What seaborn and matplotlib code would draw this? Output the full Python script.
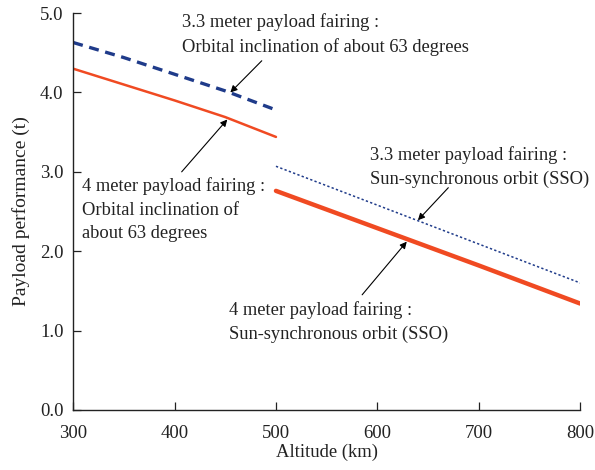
import matplotlib
matplotlib.use("Agg")
import matplotlib.pyplot as plt
import seaborn as sns
import pandas as pd

# Altitude (km) and payload (t) for each case
alt_63 = [300, 350, 400, 450, 500]
fair33_63 = [4.63, 4.44, 4.23, 4.02, 3.78]
fair4_63 = [4.30, 4.10, 3.90, 3.69, 3.44]
alt_sso = [500, 600, 700, 800]
fair33_sso = [3.07, 2.58, 2.09, 1.60]
fair4_sso = [2.76, 2.29, 1.82, 1.34]

x_ticks = [300, 400, 500, 600, 700, 800]
y_ticks = [0.0, 1.0, 2.0, 3.0, 4.0, 5.0]

RED, NAVY = "#f04a22", "#1f3b8a"

sns.set_theme(style="ticks")
plt.rcParams["font.family"] = ["Liberation Serif", "DejaVu Serif"]

fig = plt.figure(figsize=(5.95, 4.70), dpi=100)
ax = fig.add_axes([0.123, 0.128, 0.852, 0.844])

d63 = pd.DataFrame({"alt": alt_63, "a": fair33_63, "b": fair4_63})
dsso = pd.DataFrame({"alt": alt_sso, "a": fair33_sso, "b": fair4_sso})
sns.lineplot(data=d63, x="alt", y="a", ax=ax, color=NAVY, lw=2.4, ls=(0, (3, 2)))
sns.lineplot(data=d63, x="alt", y="b", ax=ax, color=RED, lw=1.8)
sns.lineplot(data=dsso, x="alt", y="a", ax=ax, color=NAVY, lw=1.1, ls=(0, (1.5, 1.5)))
sns.lineplot(data=dsso, x="alt", y="b", ax=ax, color=RED, lw=3.2)

ax.set_xlim(300, 800)
ax.set_ylim(0, 5.0)
ax.set_xticks(x_ticks)
ax.set_yticks(y_ticks)
ax.set_yticklabels([f"{v:.1f}" for v in y_ticks])
ax.tick_params(direction="in", length=6, width=0.9, labelsize=13.5, colors="#222222")
ax.tick_params(axis="x", pad=11)
ax.tick_params(axis="y", pad=7)
for s in ["top", "right"]:
    ax.spines[s].set_visible(False)
for s in ["left", "bottom"]:
    ax.spines[s].set_linewidth(1.0)
    ax.spines[s].set_color("#222222")
ax.set_xlabel("Altitude (km)", fontsize=13.4, color="#222222", labelpad=1)
ax.set_ylabel("Payload performance (t)", fontsize=14, color="#222222", labelpad=7)

arw = dict(arrowstyle="-|>", color="black", lw=0.8, mutation_scale=10, shrinkA=0, shrinkB=0)
kw = dict(fontsize=13.3, color="#222222", ha="left", va="center", linespacing=1.5)
ax.annotate("", xy=(455, 4.00), xytext=(486, 4.40), arrowprops=arw)
ax.text(407, 4.73, "3.3 meter payload fairing :\nOrbital inclination of about 63 degrees", **kw)
ax.annotate("", xy=(452, 3.66), xytext=(407, 3.0), arrowprops=arw)
ax.text(309, 2.52, "4 meter payload fairing :\nOrbital inclination of\nabout 63 degrees", **kw)
ax.annotate("", xy=(640, 2.39), xytext=(670, 2.80), arrowprops=arw)
ax.text(593, 3.06, "3.3 meter payload fairing :\nSun-synchronous orbit (SSO)", **kw)
ax.annotate("", xy=(629, 2.12), xytext=(585, 1.45), arrowprops=arw)
ax.text(454, 1.11, "4 meter payload fairing :\nSun-synchronous orbit (SSO)", **kw)

fig.savefig("out.png", dpi=100)
